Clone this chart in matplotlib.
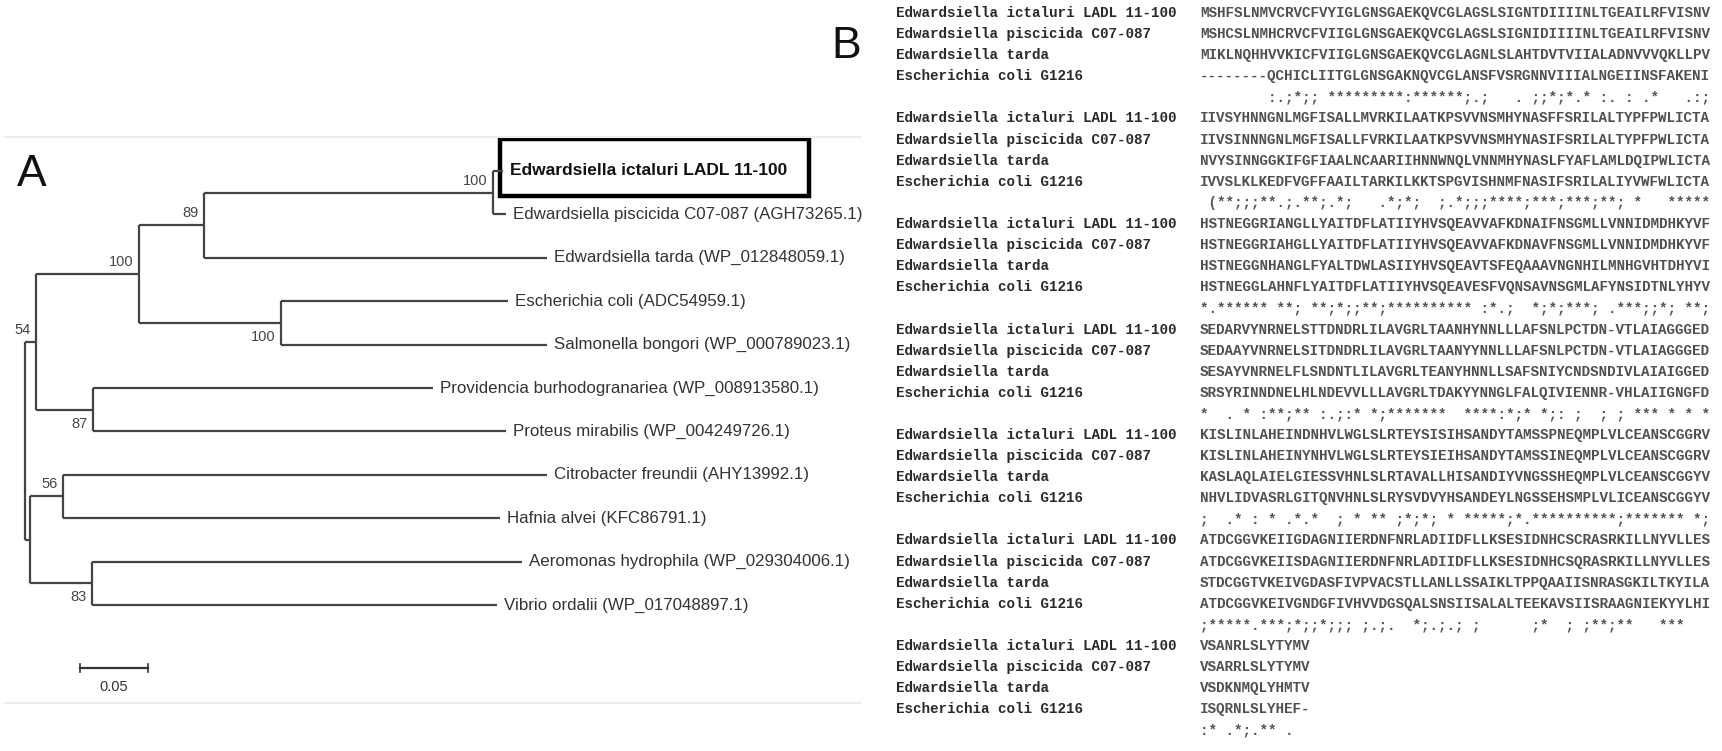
import matplotlib
matplotlib.use('Agg')
import matplotlib.pyplot as plt
from matplotlib import font_manager
from matplotlib.patches import Rectangle
from matplotlib.transforms import offset_copy

installed = {f.name for f in font_manager.fontManager.ttflist}
SANS = 'Liberation Sans' if 'Liberation Sans' in installed else 'DejaVu Sans'
MONO = 'Liberation Mono' if 'Liberation Mono' in installed else 'DejaVu Sans Mono'

# ---- tree (branch lengths in substitutions/site) ----
leaf_names = ['Edwardsiella ictaluri LADL 11-100',
              'Edwardsiella piscicida C07-087 (AGH73265.1)',
              'Edwardsiella tarda (WP_012848059.1)',
              'Escherichia coli (ADC54959.1)',
              'Salmonella bongori (WP_000789023.1)',
              'Providencia burhodogranariea (WP_008913580.1)',
              'Proteus mirabilis (WP_004249726.1)',
              'Citrobacter freundii (AHY13992.1)',
              'Hafnia alvei (KFC86791.1)',
              'Aeromonas hydrophila (WP_029304006.1)',
              'Vibrio ordalii (WP_017048897.1)']
leaf_parent = ['IP', 'IP', 'Ed', 'CS', 'CS', 'PP', 'PP', 'CH', 'CH', 'AV', 'AV']
leaf_length = [0.0074, 0.0096, 0.2522, 0.1669, 0.1956, 0.2500, 0.3037,
               0.3559, 0.3213, 0.3162, 0.2978]

clade_ids = ['U', 'L', 'E', 'PP', 'Ed', 'CS', 'IP', 'CH', 'AV']
clade_parent = ['root', 'root', 'U', 'U', 'E', 'E', 'Ed', 'L', 'L']
clade_length = [0.0081, 0.0040, 0.0757, 0.0419, 0.0478, 0.1044, 0.2125, 0.0239, 0.0452]
clade_support = [54, None, 100, 87, 89, 100, 100, 56, 83]

scale_len = 0.05

# ---- alignment ----
aln_names = ['Edwardsiella ictaluri LADL 11-100', 'Edwardsiella piscicida C07-087',
             'Edwardsiella tarda', 'Escherichia coli G1216']
seq_ictaluri = [
    'MSHFSLNMVCRVCFVYIGLGNSGAEKQVCGLAGSLSIGNTDIIIINLTGEAILRFVISNV',
    'IIVSYHNNGNLMGFISALLMVRKILAATKPSVVNSMHYNASFFSRILALTYPFPWLICTA',
    'HSTNEGGRIANGLLYAITDFLATIIYHVSQEAVVAFKDNAIFNSGMLLVNNIDMDHKYVF',
    'SEDARVYNRNELSTTDNDRLILAVGRLTAANHYNNLLLAFSNLPCTDN-VTLAIAGGGED',
    'KISLINLAHEINDNHVLWGLSLRTEYSISIHSANDYTAMSSPNEQMPLVLCEANSCGGRV',
    'ATDCGGVKEIIGDAGNIIERDNFNRLADIIDFLLKSESIDNHCSCRASRKILLNYVLLES',
    'VSANRLSLYTYMV']
seq_piscicida = [
    'MSHCSLNMHCRVCFVIIGLGNSGAEKQVCGLAGSLSIGNIDIIIINLTGEAILRFVISNV',
    'IIVSINNNGNLMGFISALLFVRKILAATKPSVVNSMHYNASIFSRILALTYPFPWLICTA',
    'HSTNEGGRIAHGLLYAITDFLATIIYHVSQEAVVAFKDNAVFNSGMLLVNNIDMDHKYVF',
    'SEDAAYVNRNELSITDNDRLILAVGRLTAANYYNNLLLAFSNLPCTDN-VTLAIAGGGED',
    'KISLINLAHEINYNHVLWGLSLRTEYSIEIHSANDYTAMSSINEQMPLVLCEANSCGGRV',
    'ATDCGGVKEIISDAGNIIERDNFNRLADIIDFLLKSESIDNHCSQRASRKILLNYVLLES',
    'VSARRLSLYTYMV']
seq_tarda = [
    'MIKLNQHHVVKICFVIIGLGNSGAEKQVCGLAGNLSLAHTDVTVIIALADNVVVQKLLPV',
    'NVYSINNGGKIFGFIAALNCAARIIHNNWNQLVNNMHYNASLFYAFLAMLDQIPWLICTA',
    'HSTNEGGNHANGLFYALTDWLASIIYHVSQEAVTSFEQAAAVNGNHILMNHGVHTDHYVI',
    'SESAYVNRNELFLSNDNTLILAVGRLTEANYHNNLLSAFSNIYCNDSNDIVLAIAIGGED',
    'KASLAQLAIELGIESSVHNLSLRTAVALLHISANDIYVNGSSHEQMPLVLCEANSCGGYV',
    'STDCGGTVKEIVGDASFIVPVACSTLLANLLSSAIKLTPPQAAIISNRASGKILTKYILA',
    'VSDKNMQLYHMTV']
seq_coli = [
    '--------QCHICLIITGLGNSGAKNQVCGLANSFVSRGNNVIIIALNGEIINSFAKENI',
    'IVVSLKLKEDFVGFFAAILTARKILKKTSPGVISHNMFNASIFSRILALIYVWFWLICTA',
    'HSTNEGGLAHNFLYAITDFLATIIYHVSQEAVESFVQNSAVNSGMLAFYNSIDTNLYHYV',
    'SRSYRINNDNELHLNDEVVLLLAVGRLTDAKYYNNGLFALQIVIENNR-VHLAIIGNGFD',
    'NHVLIDVASRLGITQNVHNLSLRYSVDVYHSANDEYLNGSSEHSMPLVLICEANSCGGYV',
    'ATDCGGVKEIVGNDGFIVHVVDGSQALSNSIISALALTEEKAVSIISRAAGNIEKYYLHI',
    'ISQRNLSLYHEF-']
consensus = [
    '        :.;*;; *********:******;.;   . ;;*;*.* :. : .*   .:;',
    ' (**;;;**.;.**;.*;   .*;*;  ;.*;;;****;***;***;**; *   *****',
    '*.****** **; **;*;;**;********** :*.;  *;*;***; .***;;*; **;',
    '*  . * :**;** :.;:* *;*******  ****:*;* *;: ;  ; ; *** * * *',
    ';  .* : * .*.*  ; * ** ;*;*; * *****;*.**********;******* *;',
    ';*****.***;*;;*;;; ;.;.  *;.;.; ;      ;*  ; ;**;**   ***   ',
    ':* .*;.** .']

# ---- layout helpers ----
xpos = {'root': 0.0}
for c, p, l in zip(clade_ids, clade_parent, clade_length):
    xpos[c] = xpos[p] + l
ypos = {}
children = {}
for i, (p, l) in enumerate(zip(leaf_parent, leaf_length)):
    key = 'leaf%d' % i
    xpos[key] = xpos[p] + l
    ypos[key] = i
    children.setdefault(p, []).append(key)
for c, p in zip(clade_ids, clade_parent):
    children.setdefault(p, []).append(c)
for c in list(reversed(clade_ids)) + ['root']:
    ys = [ypos[k] for k in children[c]]
    ypos[c] = (min(ys) + max(ys)) / 2
parent_of = dict(zip(clade_ids, clade_parent))
parent_of.update({'leaf%d' % i: p for i, p in enumerate(leaf_parent)})

fig = plt.figure(figsize=(17.22, 7.51), dpi=100)

# ---------------- panel A ----------------
px_per_unit = 1360.0
row_px = 43.4
ax = fig.add_axes([0, 0, 870 / 1722, 1])
ax.set_xlim(-25 / px_per_unit, 845 / px_per_unit)
ax.set_ylim((751 - 171) / row_px, -171 / row_px)
ax.axis('off')

line_kw = dict(color='#444444', lw=1.6, solid_capstyle='butt')
for node, par in parent_of.items():
    ax.plot([xpos[par], xpos[node]], [ypos[node], ypos[node]], **line_kw)
for node, kids in children.items():
    ys = [ypos[k] for k in kids]
    ax.plot([xpos[node], xpos[node]], [min(ys), max(ys)], **line_kw)

# taxon names
for i, name in enumerate(leaf_names):
    key = 'leaf%d' % i
    tr = offset_copy(ax.transData, fig=fig, x=7, y=0, units='dots')
    ax.text(xpos[key], ypos[key], name, transform=tr, ha='left', va='center',
            fontsize=12.5 if i == 0 else 12.2, family=SANS,
            color='#111' if i == 0 else '#333',
            fontweight='bold' if i == 0 else 'normal')

# highlight box round the new isolate
ax.add_patch(Rectangle((xpos['leaf0'] - 3 / px_per_unit, ypos['leaf0'] - 32 / row_px),
                       309 / px_per_unit, 57 / row_px, fill=False, ec='black', lw=3.2))

# bootstrap values
support_side = {'U': 'above', 'E': 'above', 'PP': 'below', 'Ed': 'above',
                'CS': 'below', 'IP': 'above', 'CH': 'above', 'AV': 'below'}
for c, s in zip(clade_ids, clade_support):
    if s is None:
        continue
    up = support_side[c] == 'above'
    tr = offset_copy(ax.transData, fig=fig, x=-5, y=5 if up else -7, units='dots')
    ax.text(xpos[c], ypos[c], str(s), transform=tr, ha='right',
            va='bottom' if up else 'top', fontsize=10.5, family=SANS, color='#444')

# scale bar
sb_x = (80 - 25) / px_per_unit
sb_y = (668 - 171) / row_px
ax.plot([sb_x, sb_x + scale_len], [sb_y, sb_y], color='#333', lw=1.6)
for xx in (sb_x, sb_x + scale_len):
    ax.plot([xx, xx], [sb_y - 4 / row_px, sb_y + 4 / row_px], color='#333', lw=1.2)
tr = offset_copy(ax.transData, fig=fig, x=0, y=-12, units='dots')
ax.text(sb_x + scale_len / 2, sb_y, '%.2f' % scale_len, transform=tr, ha='center', va='top',
        fontsize=10.5, family=SANS, color='#333')

# faint panel rules
for yf in (1 - 137 / 751, 1 - 703 / 751):
    ax.plot([5 / 870, 860 / 870], [yf, yf], transform=ax.transAxes, color='#ececec', lw=1.5)
ax.text(32 / 870, 1 - 175 / 751, 'A', transform=ax.transAxes, ha='center', va='center',
        fontsize=32, family=SANS, color='#111')

# ---------------- panel B ----------------
bx = fig.add_axes([0, 0, 1, 1])
bx.set_xlim(0, 1722)
bx.set_ylim(751, 0)
bx.axis('off')
bx.patch.set_alpha(0)
bx.text(846, 46, 'B', ha='center', va='center', fontsize=32, family=SANS, color='#111')

line_h = 21.1
y0 = 13
rows = [seq_ictaluri, seq_piscicida, seq_tarda, seq_coli]
for b in range(len(consensus)):
    for r, name in enumerate(aln_names):
        y = y0 + (b * 5 + r) * line_h
        bx.text(896, y, name, ha='left', va='center', family=MONO, fontsize=10.3,
                fontweight='bold', color='#2a2a2a')
        bx.text(1200, y, rows[r][b], ha='left', va='center', family=MONO, fontsize=10.3,
                fontweight='bold', color='#505050')
    y = y0 + (b * 5 + 4) * line_h
    bx.text(1200, y, consensus[b], ha='left', va='center', family=MONO, fontsize=10.3,
            fontweight='bold', color='#555555')

fig.savefig('out.png', dpi=100, facecolor='white')
